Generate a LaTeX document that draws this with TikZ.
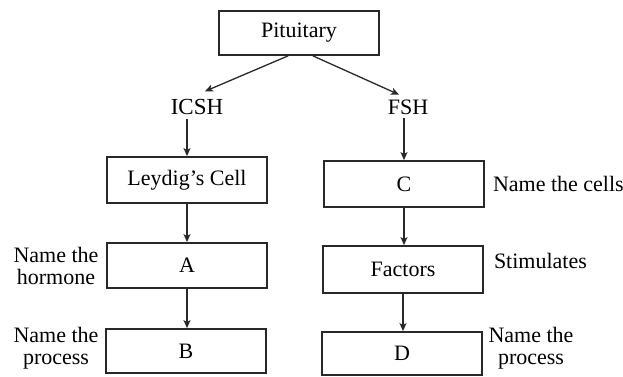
\documentclass[tikz,border=0pt]{standalone}
\usepackage{fontspec}
\setmainfont{Liberation Serif}
\usepackage{tikz}
\usetikzlibrary{arrows.meta}
\definecolor{inkgray}{RGB}{40, 40, 40}

\begin{document}
\begin{tikzpicture}[x=1pt, y=-1pt,
  font=\fontsize{22}{25}\selectfont,
  box/.style={draw=inkgray, line width=1.8pt, minimum width=160pt, inner sep=2pt},
  lbl/.style={inner sep=2pt, outer sep=2pt, align=center},
  arr/.style={draw=inkgray, line width=1.3pt, -{Stealth[length=8pt, width=7pt, inset=2pt]}}]
\useasboundingbox[fill=white] (0,0) rectangle (623,376);

% Pituitary and its hormones
\node[box, minimum height=44pt] (pit) at (299,33) {Pituitary};
\node[lbl] (icsh) at (197,107) {\fontsize{23}{26}\selectfont ICSH};
\node[lbl] (fsh) at (408,107) {FSH};

% Left column
\node[box, minimum height=46pt] (leydig) at (187,180) {Leydig's Cell};
\node[box, minimum height=45pt] (A) at (187,265.5) {A};
\node[box, minimum height=44pt] (B) at (186,351) {B};

% Right column
\node[box, minimum height=46pt] (C) at (404,184) {C};
\node[box, minimum height=47pt] (fac) at (403,269.5) {Factors};
\node[box, minimum height=43pt] (D) at (402,353.5) {D};

% Side labels
\node[lbl, align=center, inner sep=0pt] (hormone) at (56,266) {Name the\\[-3pt]hormone};
\node[lbl, align=center, inner sep=0pt] (procL) at (56,348) {Name the\\[-3pt]process};
\node[lbl, anchor=west, inner sep=0pt] (cells) at (491,184) {Name the cells};
\node[lbl, anchor=west, inner sep=0pt] (stim) at (492,261) {Stimulates};
\node[lbl, align=center, inner sep=0pt] (procR) at (531,348) {Name the\\[-3pt]process};

% Arrows
\draw[arr] ([xshift=-11pt]pit.south) -- ([xshift=8pt, yshift=4pt]icsh.north);
\draw[arr] ([xshift=14pt]pit.south) -- ([xshift=-9pt, yshift=1pt]fsh.north);
\draw[arr] (icsh.south -| leydig.north) -- (leydig.north);
\draw[arr] (fsh.south -| C.north) -- (C.north);
\draw[arr] (leydig.south) -- (A.north);
\draw[arr] (C.south) -- (C.south |- fac.north);
\draw[arr] (A.south) -- (A.south |- B.north);
\draw[arr] (fac.south) -- (fac.south |- D.north);
\end{tikzpicture}
\end{document}
